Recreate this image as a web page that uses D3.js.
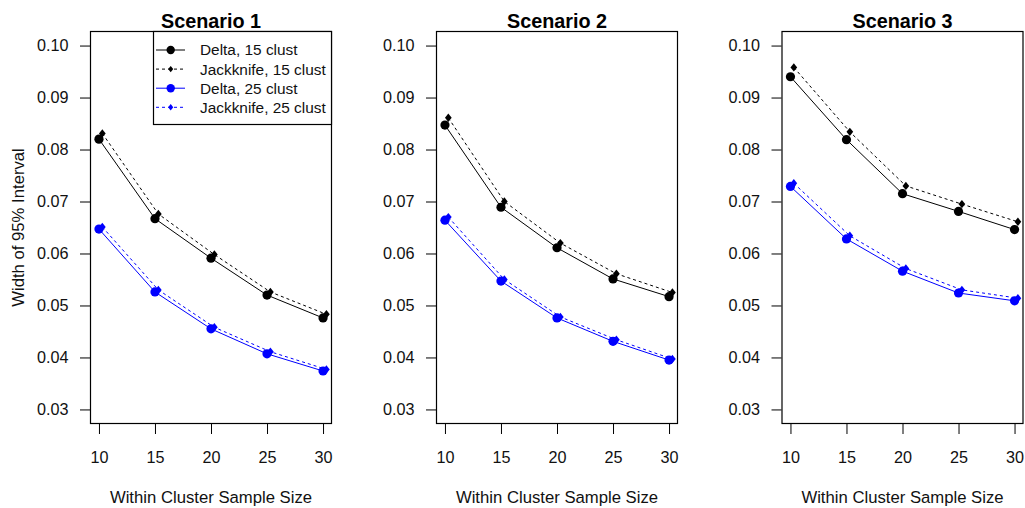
<!DOCTYPE html>
<html>
<head>
<meta charset="utf-8">
<script src="https://cdn.jsdelivr.net/npm/d3@7"></script>
<style>
  html, body { margin: 0; padding: 0; background: #fff; }
  svg { display: block; font-family: "Liberation Sans", Arial, Helvetica, sans-serif; }
</style>
</head>
<body>
<svg id="chart" width="1025" height="508"></svg>
<script>
// Within-cluster sample sizes on the x axis
const sampleSizes = [10, 15, 20, 25, 30];
const scenarioTitles = ["Scenario 1", "Scenario 2", "Scenario 3"];
const yTicks = [0.03, 0.04, 0.05, 0.06, 0.07, 0.08, 0.09, 0.10];

// Interval widths, one row per scenario
const delta15 = [
  [0.0820, 0.0667, 0.0591, 0.0520, 0.0476],
  [0.0847, 0.0689, 0.0611, 0.0551, 0.0517],
  [0.0940, 0.0819, 0.0715, 0.0681, 0.0646]
];
const jack15 = [
  [0.0831, 0.0676, 0.0598, 0.0526, 0.0483],
  [0.0861, 0.0700, 0.0620, 0.0561, 0.0525],
  [0.0958, 0.0834, 0.0730, 0.0695, 0.0661]
];
const delta25 = [
  [0.0647, 0.0526, 0.0455, 0.0407, 0.0374],
  [0.0664, 0.0547, 0.0476, 0.0431, 0.0395],
  [0.0729, 0.0628, 0.0566, 0.0524, 0.0509]
];
const jack25 = [
  [0.0651, 0.0530, 0.0458, 0.0411, 0.0377],
  [0.0670, 0.0550, 0.0478, 0.0434, 0.0397],
  [0.0735, 0.0634, 0.0571, 0.0530, 0.0514]
];

const legendLabels = ["Delta, 15 clust", "Jackknife, 15 clust", "Delta, 25 clust", "Jackknife, 25 clust"];

const seriesDefs = [
  { label: legendLabels[0], data: delta15, color: "#000000", dash: null,  shape: "circle",  shift: 0 },
  { label: legendLabels[1], data: jack15,  color: "#000000", dash: "3,3", shape: "diamond", shift: 0.3 },
  { label: legendLabels[2], data: delta25, color: "#0000FF", dash: null,  shape: "circle",  shift: 0 },
  { label: legendLabels[3], data: jack25,  color: "#0000FF", dash: "3,3", shape: "diamond", shift: 0.3 }
];

const svg = d3.select("#chart");
const panelLefts = [90, 436, 781.5];
const panelW = 242, plotTop = 31, plotBottom = 424;

// R-style 4% axis padding
const xDom = [10 - 0.8, 30 + 0.8];
const yDom = [0.03 - 0.0028, 0.10 + 0.0028];

function drawMarker(g, shape, cx, cy, color, size) {
  if (shape === "circle") {
    g.append("circle").attr("cx", cx).attr("cy", cy).attr("r", size).attr("fill", color);
  } else {
    const s = size;
    g.append("path")
      .attr("d", `M${cx},${cy - s}L${cx + s * 0.8},${cy}L${cx},${cy + s}L${cx - s * 0.8},${cy}Z`)
      .attr("fill", color);
  }
}

panelLefts.forEach((left, p) => {
  const x = d3.scaleLinear().domain(xDom).range([left, left + panelW]);
  const y = d3.scaleLinear().domain(yDom).range([plotBottom, plotTop]);
  const g = svg.append("g");

  // y axis
  const yAxis = d3.axisLeft(y).tickValues(yTicks).tickFormat(d3.format(".2f")).tickSize(10).tickPadding(11.5);
  const ya = g.append("g").attr("transform", `translate(${left},0)`).call(yAxis);
  ya.select(".domain").remove();
  ya.selectAll("line").attr("stroke", "#000");
  ya.selectAll("text").attr("font-size", 16.2).attr("fill", "#111").attr("font-family", null);

  // x axis
  const xAxis = d3.axisBottom(x).tickValues(sampleSizes).tickSize(10).tickPadding(17);
  const xa = g.append("g").attr("transform", `translate(0,${plotBottom})`).call(xAxis);
  xa.select(".domain").remove();
  xa.selectAll("line").attr("stroke", "#000");
  xa.selectAll("text").attr("font-size", 16.2).attr("fill", "#111").attr("font-family", null);

  // plot frame
  g.append("rect")
    .attr("x", left + 0.5).attr("y", plotTop + 0.5)
    .attr("width", panelW - 1).attr("height", plotBottom - plotTop - 1)
    .attr("fill", "none").attr("stroke", "#000").attr("stroke-width", 1.2);

  // title
  g.append("text")
    .attr("x", left + panelW / 2).attr("y", 28)
    .attr("text-anchor", "middle").attr("font-size", 19.8).attr("font-weight", "bold")
    .text(scenarioTitles[p]);

  // x label
  g.append("text")
    .attr("x", left + panelW / 2).attr("y", 502.5)
    .attr("text-anchor", "middle").attr("font-size", 16.7).attr("fill", "#111")
    .text("Within Cluster Sample Size");

  // series
  seriesDefs.forEach(s => {
    const pts = s.data[p].map((v, i) => [x(sampleSizes[i] + s.shift), y(v)]);
    g.append("path")
      .attr("d", d3.line()(pts))
      .attr("fill", "none").attr("stroke", s.color).attr("stroke-width", 1)
      .attr("stroke-dasharray", s.dash);
    pts.forEach(([cx, cy]) => drawMarker(g, s.shape, cx, cy, s.color, s.shape === "circle" ? 4.6 : 4.2));
  });

  // legend in first panel
  if (p === 0) {
    const lx = 153, ly = 31, lw = left + panelW - lx, lh = 93;
    const lg = svg.append("g");
    lg.append("rect").attr("x", lx + 0.5).attr("y", ly + 0.5).attr("width", lw - 1).attr("height", lh)
      .attr("fill", "#fff").attr("stroke", "#000").attr("stroke-width", 1.2);
    seriesDefs.forEach((s, i) => {
      const ry = 50 + i * 19.1;
      lg.append("line").attr("x1", 156).attr("x2", 185).attr("y1", ry).attr("y2", ry)
        .attr("stroke", s.color).attr("stroke-width", 1).attr("stroke-dasharray", s.dash);
      drawMarker(lg, s.shape, 170.7, ry, s.color, s.shape === "circle" ? 4.2 : 3.2);
      lg.append("text").attr("x", 200).attr("y", ry + 5.4).attr("font-size", 15.4).attr("fill", "#111")
        .text(s.label);
    });
  }
});

// y label
svg.append("text")
  .attr("transform", `translate(24,${(plotTop + plotBottom) / 2}) rotate(-90)`)
  .attr("text-anchor", "middle").attr("font-size", 16.7).attr("fill", "#111")
  .text("Width of 95% Interval");
</script>
</body>
</html>
